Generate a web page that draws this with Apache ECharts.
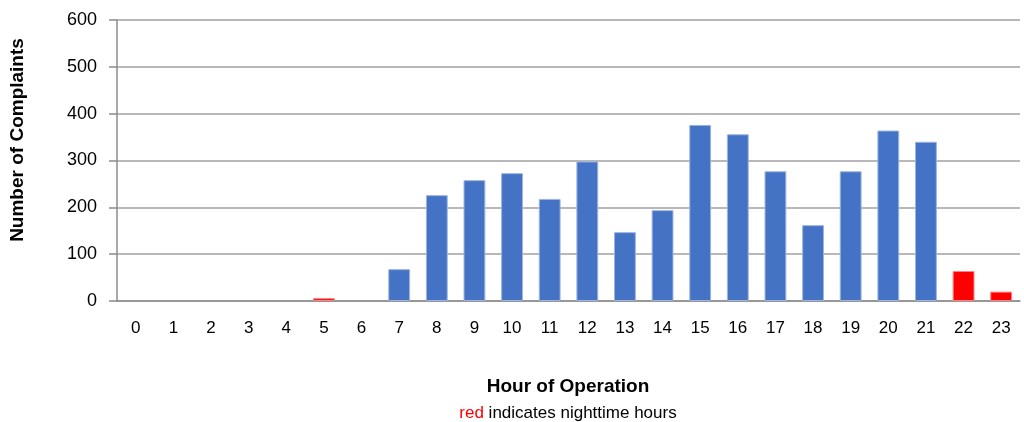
<!DOCTYPE html>
<html>
<head>
<meta charset="utf-8">
<script src="https://cdn.jsdelivr.net/npm/echarts@6/dist/echarts.min.js"></script>
<style>
  html, body { margin: 0; padding: 0; background: #fff; }
  #chart { width: 1024px; height: 422px; }
</style>
</head>
<body>
<div id="chart"></div>
<script>
  // hours of the day
  const hours = ['0', '1', '2', '3', '4', '5', '6', '7', '8', '9', '10', '11',
    '12', '13', '14', '15', '16', '17', '18', '19', '20', '21', '22', '23'];
  // complaints per hour
  const complaints = [0, 0, 0, 0, 0, 6, 0, 68, 226, 258, 273, 218,
    298, 147, 194, 376, 356, 277, 162, 277, 364, 340, 64, 20];
  // nighttime hours get drawn red
  const nightHours = ['0', '1', '2', '3', '4', '5', '6', '22', '23'];
  const yTicks = { min: 0, max: 600, interval: 100 };

  const font = "'Liberation Sans Narrow', 'Liberation Sans', sans-serif";
  const blue = '#4472C4';
  const red = '#FF0000';

  const myChart = echarts.init(document.getElementById('chart'));

  const data = complaints.map((v, i) => {
    const night = nightHours.indexOf(hours[i]) >= 0;
    return {
      value: v,
      itemStyle: {
        color: night ? red : blue,
        borderColor: night ? '#FF8080' : '#9DB4E0',
        borderWidth: v > 0 ? 1 : 0,
      },
    };
  });

  const options = {
    animation: false,
    grid: { left: 117, right: 4, top: 20, bottom: 121 },
    title: [
      {
        text: 'Hour of Operation',
        left: 563,
        top: 372,
        textAlign: 'center',
        textStyle: { fontFamily: font, fontSize: 19, fontWeight: 'bold', color: '#000' },
      },
      {
        text: '{r|red} indicates nighttime hours',
        left: 563,
        top: 400,
        textAlign: 'center',
        textStyle: {
          fontFamily: font, fontSize: 17, fontWeight: 'normal', color: '#000',
          rich: { r: { fontFamily: font, fontSize: 17, color: red } },
        },
      },
    ],
    graphic: [
      {
        type: 'text',
        x: 18,
        y: 140,
        rotation: Math.PI / 2,
        style: {
          text: 'Number of Complaints',
          fontFamily: font,
          fontSize: 19,
          fontWeight: 'bold',
          fill: '#000',
          align: 'center',
          verticalAlign: 'middle',
        },
      },
    ],
    xAxis: {
      type: 'category',
      data: hours,
      axisLine: { lineStyle: { color: '#8c8c8c', width: 1.5 } },
      axisTick: { alignWithLabel: true, length: 8, lineStyle: { color: '#8c8c8c', width: 1.5 } },
      axisLabel: { fontFamily: font, fontSize: 17, color: '#000', margin: 19, interval: 0 },
    },
    yAxis: {
      type: 'value',
      min: yTicks.min,
      max: yTicks.max,
      interval: yTicks.interval,
      axisLine: { show: true, lineStyle: { color: '#8c8c8c', width: 1.5 } },
      axisTick: { show: true, length: 8, lineStyle: { color: '#8c8c8c', width: 1.5 } },
      axisLabel: { fontFamily: font, fontSize: 18, color: '#000', margin: 20 },
      splitLine: { lineStyle: { color: '#a0a0a0', width: 1.5 } },
    },
    series: [
      {
        type: 'bar',
        data,
        barCategoryGap: '42%',
      },
    ],
  };

  myChart.setOption(options);
</script>
</body>
</html>
